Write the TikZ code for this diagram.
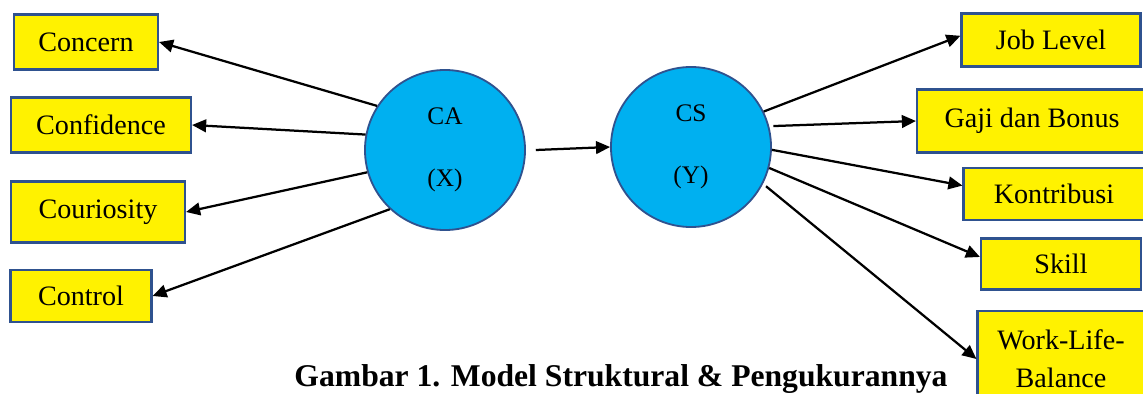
\documentclass[tikz,border=0pt]{standalone}
\usepackage{fontspec}
\setmainfont{Liberation Serif}
\usepackage{xcolor}
\usepackage{tikz}
\usetikzlibrary{arrows.meta}

\definecolor{boxblue}{RGB}{47,82,143}
\definecolor{latentblue}{RGB}{0,176,240}

\begin{document}
\begin{tikzpicture}[x=0.025cm,y=-0.025cm,
  indicator/.style={draw=boxblue,fill=yellow,line width=1.5pt,inner sep=0pt,
    font=\fontsize{20}{24}\selectfont},
  latent/.style={circle,draw=boxblue,fill=latentblue,line width=1.3pt,
    minimum size=4cm,inner sep=0pt,align=center,font=\fontsize{18}{22}\selectfont},
  link/.style={line width=1.6pt,-{Triangle[length=10pt,width=9pt]}}]
\useasboundingbox (0,0) rectangle (1143,394);

% Latent variables
\node[latent] (ca) at (445,150) {CA\\[22pt](X)};
\node[latent] (cs) at (691,147) {CS\\[22pt](Y)};

% Indicators of CA
\node[indicator,minimum width=3.6cm,minimum height=1.375cm] (concern) at (86,42) {Concern};
\node[indicator,minimum width=4.5cm,minimum height=1.375cm] (confidence) at (101,125) {Confidence};
\node[indicator,minimum width=4.35cm,minimum height=1.525cm] (couriosity) at (98,212) {Couriosity};
\node[indicator,minimum width=3.525cm,minimum height=1.3cm] (control) at (81,296) {Control};

% Indicators of CS
\node[indicator,minimum width=4.475cm,minimum height=1.325cm] (joblevel) at (1051,40) {Job Level};
\node[indicator,minimum width=5.75cm,minimum height=1.575cm] (gaji) at (1032,121) {Gaji dan Bonus};
\node[indicator,minimum width=4.525cm,minimum height=1.3cm] (kontribusi) at (1054,194) {Kontribusi};
\node[indicator,minimum width=4cm,minimum height=1.275cm] (skill) at (1061,264) {Skill};
\node[indicator,minimum width=4.175cm,minimum height=2.4cm,align=center] (wlb) at (1061,359) {Work-Life-\\[3pt]Balance};

% Paths
\draw[link] (ca.147) -- (concern.east);
\draw[link] (ca.169) -- (confidence.east);
\draw[link] (ca.196) -- (couriosity.east);
\draw[link] (ca.227) -- (control.east);
\draw[link] ([xshift=7pt]ca.east) -- (cs.west);
\draw[link] (cs.26) -- ([yshift=3pt]joblevel.west);
\draw[link] ([xshift=3pt]cs.15) -- (gaji.west);
\draw[link] (cs.-2) -- ([yshift=6pt]kontribusi.west);
\draw[link] (cs.-15) -- ([yshift=5pt]skill.west);
\draw[link] ([xshift=3pt]cs.-29) -- (wlb.west);

% Caption
\node[anchor=base,font=\fontsize{22.5}{27}\selectfont\bfseries] (caption) at (621,386)
  {Gambar 1. Model Struktural \& Pengukurannya};
\end{tikzpicture}
\end{document}
